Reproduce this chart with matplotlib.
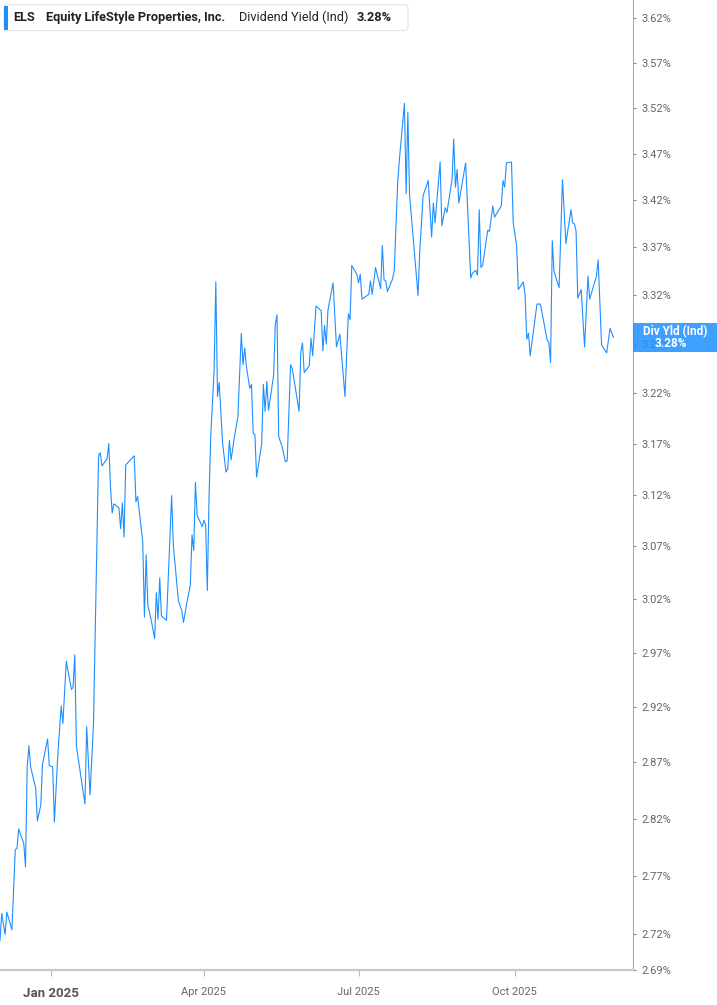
import matplotlib
matplotlib.use("Agg")
import matplotlib.pyplot as plt
import matplotlib.ticker as mticker
from matplotlib.patches import FancyBboxPatch, Rectangle
import pandas as pd

# days counted from 2025-01-01, dividend yield in %
day_offset = [-30, -29, -27, -26, -23, -21, -20, -19, -16, -15, -14, -13, -12, -9, -8, -6, -5, -2, -1,
              1, 2, 4, 6, 7, 9, 12, 13, 14, 15, 20, 21, 23, 25, 28, 29, 30, 33, 34, 35, 36, 37, 40,
              41, 42, 43, 44, 49, 50, 51, 54, 55, 56, 57, 59, 61, 62, 63, 64, 65, 68, 71, 72, 75,
              77, 78, 80, 82, 83, 84, 85, 86, 89, 90, 91, 92, 93, 94, 96, 97, 98, 99, 100, 101, 103,
              104, 105, 106, 108, 110, 112, 113, 114, 115, 117, 118, 119, 120, 121, 124, 125, 126,
              127, 128, 131, 132, 133, 134, 136, 138, 139, 141, 142, 146, 147, 148, 149, 152, 153,
              154, 156, 159, 160, 161, 162, 163, 166, 168, 170, 173, 175, 176, 177, 180, 181, 182,
              183, 187, 188, 189, 191, 194, 195, 196, 197, 198, 201, 202, 204, 205, 208, 209, 210,
              211, 216, 217, 219, 222, 224, 225, 226, 229, 230, 232, 233, 236, 237, 238, 239, 240,
              244, 247, 248, 250, 251, 252, 253, 254, 257, 258, 260, 261, 265, 266, 267, 268, 271,
              272, 274, 275, 278, 279, 280, 281, 282, 286, 288, 292, 293, 294, 295, 296, 299, 301,
              303, 306, 307, 308, 309, 310, 312, 314, 316, 317, 321, 322, 324, 327, 329, 331]
div_yield = [2.715, 2.738, 2.720, 2.739, 2.724, 2.793, 2.794, 2.811, 2.798, 2.778, 2.866, 2.885,
             2.866, 2.847, 2.818, 2.832, 2.868, 2.891, 2.867, 2.866, 2.817, 2.876, 2.921, 2.905,
             2.962, 2.936, 2.938, 2.968, 2.884, 2.833, 2.902, 2.841, 2.904, 3.158, 3.161, 3.148,
             3.155, 3.170, 3.128, 3.102, 3.111, 3.107, 3.087, 3.112, 3.079, 3.149, 3.158, 3.113,
             3.118, 3.074, 3.003, 3.062, 3.014, 3.000, 2.983, 3.026, 3.001, 3.040, 3.004, 3.000,
             3.119, 3.071, 3.018, 3.009, 2.998, 3.017, 3.033, 3.081, 3.066, 3.132, 3.100, 3.089,
             3.095, 3.091, 3.028, 3.117, 3.177, 3.244, 3.334, 3.217, 3.231, 3.200, 3.170, 3.142,
             3.145, 3.173, 3.154, 3.177, 3.197, 3.281, 3.249, 3.266, 3.247, 3.225, 3.229, 3.180,
             3.179, 3.137, 3.170, 3.229, 3.202, 3.232, 3.203, 3.238, 3.290, 3.300, 3.177, 3.167,
             3.152, 3.153, 3.249, 3.245, 3.202, 3.262, 3.271, 3.241, 3.248, 3.276, 3.258, 3.309,
             3.304, 3.263, 3.289, 3.270, 3.305, 3.333, 3.267, 3.280, 3.217, 3.301, 3.295, 3.351,
             3.342, 3.333, 3.342, 3.316, 3.321, 3.335, 3.321, 3.349, 3.327, 3.372, 3.336, 3.335,
             3.324, 3.337, 3.346, 3.438, 3.463, 3.525, 3.427, 3.515, 3.426, 3.320, 3.366, 3.425,
             3.441, 3.381, 3.417, 3.396, 3.461, 3.393, 3.412, 3.407, 3.442, 3.486, 3.434, 3.453,
             3.417, 3.460, 3.338, 3.343, 3.346, 3.341, 3.410, 3.349, 3.351, 3.388, 3.387, 3.414,
             3.402, 3.414, 3.441, 3.434, 3.460, 3.461, 3.396, 3.372, 3.326, 3.334, 3.320, 3.275,
             3.281, 3.258, 3.311, 3.311, 3.274, 3.272, 3.251, 3.377, 3.345, 3.328, 3.442, 3.374,
             3.410, 3.396, 3.395, 3.387, 3.317, 3.326, 3.267, 3.340, 3.316, 3.340, 3.357, 3.269,
             3.261, 3.286, 3.277]

ytick_vals = [2.69, 2.72, 2.77, 2.82, 2.87, 2.92, 2.97, 3.02, 3.07, 3.12, 3.17, 3.22, 3.27,
              3.32, 3.37, 3.42, 3.47, 3.52, 3.57, 3.62]
xtick_dates = ["2025-01-01", "2025-04-01", "2025-07-01", "2025-10-01"]
xtick_labels = ["Jan 2025", "Apr 2025", "Jul 2025", "Oct 2025"]
last_value = "3.28%"

blue = "#1e8fff"
plt.rcParams["font.family"] = ["Roboto", "DejaVu Sans"]

dates = pd.Timestamp("2025-01-01") + pd.to_timedelta(day_offset, unit="D")

W, H = 717, 1005
fig = plt.figure(figsize=(W / 100, H / 100), dpi=100)
ax = fig.add_axes([0, 35 / H, 633 / W, 970 / H])

ax.plot(dates, div_yield, color=blue, lw=0.8)

ax.set_yscale("log")
ax.set_ylim(2.69, 3.6404)
ax.set_xlim(pd.Timestamp("2024-12-02"), pd.Timestamp("2025-12-09 12:00"))

ax.yaxis.set_major_locator(mticker.FixedLocator(ytick_vals))
ax.yaxis.set_minor_locator(mticker.NullLocator())
ax.yaxis.set_major_formatter(mticker.FuncFormatter(lambda v, p: f"{v:.2f}%"))
ax.yaxis.tick_right()
ax.tick_params(axis="y", length=2, width=0.8, color="#888888", labelsize=8,
               labelcolor="#666666", pad=4)

ax.set_xticks(pd.to_datetime(xtick_dates))
ax.set_xticklabels(xtick_labels)
ax.tick_params(axis="x", length=4, width=0.8, color="#bbbbbb", labelsize=8,
               labelcolor="#666666", pad=8)
first = ax.get_xticklabels()[0]
first.set_fontweight("bold")
first.set_fontsize(9.5)
first.set_color("#555555")

for s in ["top", "left"]:
    ax.spines[s].set_visible(False)
ax.spines["right"].set_color("#aaaaaa")
ax.spines["right"].set_linewidth(0.8)
ax.spines["bottom"].set_color("#c8c8c8")
ax.spines["bottom"].set_linewidth(1.6)


def fx(px):
    return px / W


def fy(py):
    return 1 - py / H


# legend box top-left
box = FancyBboxPatch((fx(4), fy(30.5)), fx(408) - fx(4), (30.5 - 4.7) / H,
                     boxstyle="round,pad=0,rounding_size=0.004", transform=fig.transFigure,
                     facecolor="white", edgecolor="#e4e4e4", lw=0.8, zorder=5)
fig.patches.append(box)
fig.patches.append(Rectangle((fx(4), fy(30)), fx(7.5) - fx(4), 24 / H, transform=fig.transFigure,
                             facecolor=blue, edgecolor="none", zorder=6))
ty = fy(17.5)
lfs = 9.2
fig.text(fx(13), ty, "ELS", fontsize=lfs, fontweight="bold", color="#222222", va="center",
         zorder=10)
fig.text(fx(46), ty, "Equity LifeStyle Properties, Inc.", fontsize=lfs, fontweight="bold",
         color="#222222", va="center", zorder=10)
fig.text(fx(239), ty, "Dividend Yield (Ind)", fontsize=lfs, color="#222222", va="center",
         zorder=10)
fig.text(fx(357), ty, last_value, fontsize=lfs, fontweight="bold", color="#222222", va="center",
         zorder=10)

# last value tag on the right axis
fig.patches.append(Rectangle((fx(633), fy(352.3)), fx(717) - fx(633), 29.6 / H,
                             transform=fig.transFigure, facecolor=blue, edgecolor="none",
                             alpha=0.85, zorder=5))
fig.text(fx(675), fy(331.5), "Div Yld (Ind)", fontsize=8.5, fontweight="bold", color="white",
         ha="center", va="center", zorder=10)
fig.text(fx(671), fy(343.5), last_value, fontsize=8.5, fontweight="bold", color="white",
         ha="center", va="center", zorder=10)

fig.savefig("out.png", dpi=100)
